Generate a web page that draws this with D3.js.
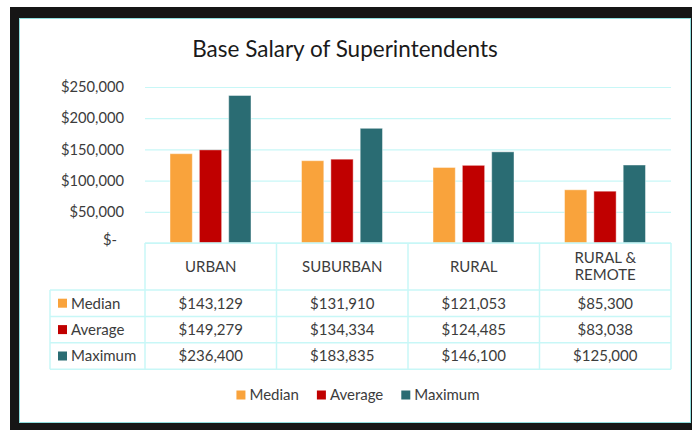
<!DOCTYPE html>
<html>
<head>
<meta charset="utf-8">
<script src="https://cdn.jsdelivr.net/npm/d3@7"></script>
<style>
    body { margin: 0; background: #ffffff; }
    svg { display: block; font-family: Lato, "Open Sans", sans-serif; }
</style>
</head>
<body>
<svg id="chart" width="692" height="430"></svg>
<script>
// chart data
const categories = ["URBAN", "SUBURBAN", "RURAL", "RURAL & REMOTE"];
const seriesNames = ["Median", "Average", "Maximum"];
const medianValues = [143129, 131910, 121053, 85300];
const averageValues = [149279, 134334, 124485, 83038];
const maximumValues = [236400, 183835, 146100, 125000];
const yTicks = [0, 50000, 100000, 150000, 200000, 250000];
const seriesColors = ["#f9a33c", "#c00000", "#2a6c73"];

const seriesValues = [medianValues, averageValues, maximumValues];

const svg = d3.select("#chart");
const gridColor = "#c8f7f7";
const textColor = "#3c3c3c";
const fontSize = "15px";

// frame: black surround and white chart panel
svg.append("rect")
    .attr("x", 10).attr("y", 7)
    .attr("width", 682).attr("height", 423)
    .attr("fill", "#161616");

svg.append("rect")
    .attr("x", 19.5).attr("y", 18.5)
    .attr("width", 671).attr("height", 404)
    .attr("fill", "#ffffff")
    .attr("stroke", "#8fdede")
    .attr("stroke-width", 1);

// title
svg.append("text")
    .attr("x", 345)
    .attr("y", 57)
    .attr("text-anchor", "middle")
    .attr("fill", "#1a1a1a")
    .attr("font-size", "22.5px")
    .text("Base Salary of Superintendents");

// scales
const plotLeft = 145, plotRight = 671;
const yTop = 87, yBottom = 243;

const x0 = d3.scaleBand()
    .domain(categories)
    .range([plotLeft, plotRight])
    .padding(0);

const x1 = d3.scaleBand()
    .domain(seriesNames)
    .range([25, x0.bandwidth() - 25.5])
    .paddingInner(0.24);

const y = d3.scaleLinear()
    .domain([0, 250000])
    .range([yBottom, yTop]);

// gridlines
const grid = svg.append("g")
    .attr("transform", `translate(${plotLeft},0)`)
    .call(d3.axisLeft(y).tickValues(yTicks).tickSize(-(plotRight - plotLeft)).tickFormat(""));
grid.select(".domain").remove();
grid.selectAll("line").attr("stroke", gridColor).attr("stroke-width", 1.2);

// y axis labels
const moneyFmt = d3.format("$,");
const yAxis = svg.append("g")
    .attr("transform", `translate(${plotLeft},0)`)
    .call(d3.axisLeft(y).tickValues(yTicks).tickSize(0).tickPadding(21)
        .tickFormat(d => d === 0 ? "$-" : moneyFmt(d)));
yAxis.select(".domain").remove();
yAxis.selectAll("text")
    .attr("fill", textColor)
    .attr("font-size", "14.7px")
    .attr("font-family", "Lato, sans-serif")
    .attr("dx", d => d === 0 ? -7 : 0)
    .attr("dy", d => d === 0 ? "0.1em" : "0.32em");

// bars
const barData = [];
categories.forEach((c, i) => {
    seriesNames.forEach((s, j) => {
        barData.push({ category: c, series: s, value: seriesValues[j][i], color: seriesColors[j] });
    });
});

svg.append("g")
    .selectAll("rect")
    .data(barData)
    .join("rect")
    .attr("x", d => x0(d.category) + x1(d.series))
    .attr("y", d => y(d.value))
    .attr("width", x1.bandwidth())
    .attr("height", d => y(0) - y(d.value))
    .attr("fill", d => d.color)
    .attr("stroke", "rgba(255,255,255,0.45)")
    .attr("stroke-width", 1);

// data table
const tableLeft = 50;
const headerBottom = 290;
const rowHeight = 26.4;
const tableBottom = headerBottom + rowHeight * seriesNames.length;
const table = svg.append("g");

// horizontal lines
table.append("line")
    .attr("x1", plotLeft).attr("x2", plotRight)
    .attr("y1", yBottom).attr("y2", yBottom);
d3.range(seriesNames.length + 1).forEach(k => {
    table.append("line")
        .attr("x1", tableLeft).attr("x2", plotRight)
        .attr("y1", headerBottom + k * rowHeight).attr("y2", headerBottom + k * rowHeight);
});
// vertical lines
table.append("line")
    .attr("x1", tableLeft).attr("x2", tableLeft)
    .attr("y1", headerBottom).attr("y2", tableBottom);
categories.forEach(c => {
    table.append("line")
        .attr("x1", x0(c)).attr("x2", x0(c))
        .attr("y1", yBottom).attr("y2", tableBottom);
});
table.append("line")
    .attr("x1", plotRight).attr("x2", plotRight)
    .attr("y1", yBottom).attr("y2", tableBottom);
table.selectAll("line").attr("stroke", gridColor).attr("stroke-width", 1.5);

// header labels, wrapped like the original cell
function wrapLabel(label, maxWidth) {
    const words = label.split(" ");
    const lines = [];
    let current = "";
    words.forEach(w => {
        const trial = current ? current + " " + w : w;
        if (trial.length * 8.5 > maxWidth && current) {
            lines.push(current);
            current = w;
        } else {
            current = trial;
        }
    });
    lines.push(current);
    return lines;
}

categories.forEach(c => {
    const lines = wrapLabel(c, 90);
    const cx = x0(c) + x0.bandwidth() / 2;
    const cy = (yBottom + headerBottom) / 2;
    const t = table.append("text")
        .attr("x", cx)
        .attr("text-anchor", "middle")
        .attr("fill", textColor)
        .attr("font-size", fontSize);
    lines.forEach((line, k) => {
        t.append("tspan")
            .attr("x", cx)
            .attr("y", cy + (k - (lines.length - 1) / 2) * 17)
            .attr("dy", "0.36em")
            .text(line);
    });
});

// rows: key, name and values
seriesNames.forEach((s, j) => {
    const cy = headerBottom + rowHeight * j + rowHeight / 2;
    table.append("rect")
        .attr("x", 58).attr("y", cy - 4.5)
        .attr("width", 9).attr("height", 9)
        .attr("fill", seriesColors[j]);
    table.append("text")
        .attr("x", 71).attr("y", cy)
        .attr("dy", "0.36em")
        .attr("fill", textColor)
        .attr("font-size", fontSize)
        .text(s);
    categories.forEach((c, i) => {
        table.append("text")
            .attr("x", x0(c) + x0.bandwidth() / 2)
            .attr("y", cy)
            .attr("dy", "0.36em")
            .attr("text-anchor", "middle")
            .attr("fill", textColor)
            .attr("font-size", fontSize)
            .text(moneyFmt(seriesValues[j][i]));
    });
});

// bottom legend
const legend = svg.append("g").attr("transform", "translate(0,395)");
const items = legend.selectAll("g")
    .data(seriesNames)
    .join("g");
items.append("rect")
    .attr("y", -4.5)
    .attr("width", 9).attr("height", 9)
    .attr("fill", (d, j) => seriesColors[j]);
items.append("text")
    .attr("x", 13)
    .attr("dy", "0.36em")
    .attr("fill", textColor)
    .attr("font-size", fontSize)
    .text(d => d);

let widths = [];
items.each(function () {
    widths.push(13 + d3.select(this).select("text").node().getComputedTextLength());
});
const gap = 18;
const totalWidth = d3.sum(widths) + gap * (widths.length - 1);
let cursor = 358 - totalWidth / 2;
items.attr("transform", (d, j) => {
    const pos = cursor;
    cursor += widths[j] + gap;
    return `translate(${pos},0)`;
});
</script>
</body>
</html>
